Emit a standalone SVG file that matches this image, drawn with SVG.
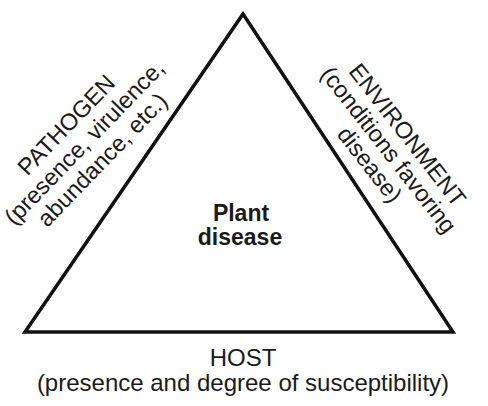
<svg xmlns="http://www.w3.org/2000/svg" width="488" height="406" viewBox="0 0 488 406">
<style>
.t{font-family:"Liberation Sans",Arial,sans-serif;font-size:24px;fill:#1a1a1a;text-anchor:middle}
.s{font-size:23.5px}
.b{font-weight:bold;font-size:23px}
.edge{fill:none;stroke:#111;stroke-width:3.5;stroke-linejoin:miter}
</style>
<rect width="488" height="406" fill="#fff"/>
<g id="connectors">
<polygon class="edge" points="243,14 453,332 25,332"/>
</g>
<g id="center">
<text class="t b" x="241" y="221">Plant</text>
<text class="t b" x="240" y="245">disease</text>
</g>
<g id="pathogen" transform="translate(85,143) rotate(-46)">
<text class="t s" x="0" y="-18">PATHOGEN</text>
<text class="t s" x="0" y="7">(presence, virulence,</text>
<text class="t s" x="0" y="32">abundance, etc.)</text>
</g>
<g id="environment" transform="translate(387,151) rotate(52)">
<text class="t s" x="0" y="-18">ENVIRONMENT</text>
<text class="t s" x="0" y="6">(conditions favoring</text>
<text class="t s" x="0" y="30">disease)</text>
</g>
<g id="host">
<text class="t" x="243" y="366">HOST</text>
<text class="t" x="243" y="391">(presence and degree of susceptibility)</text>
</g>
</svg>
